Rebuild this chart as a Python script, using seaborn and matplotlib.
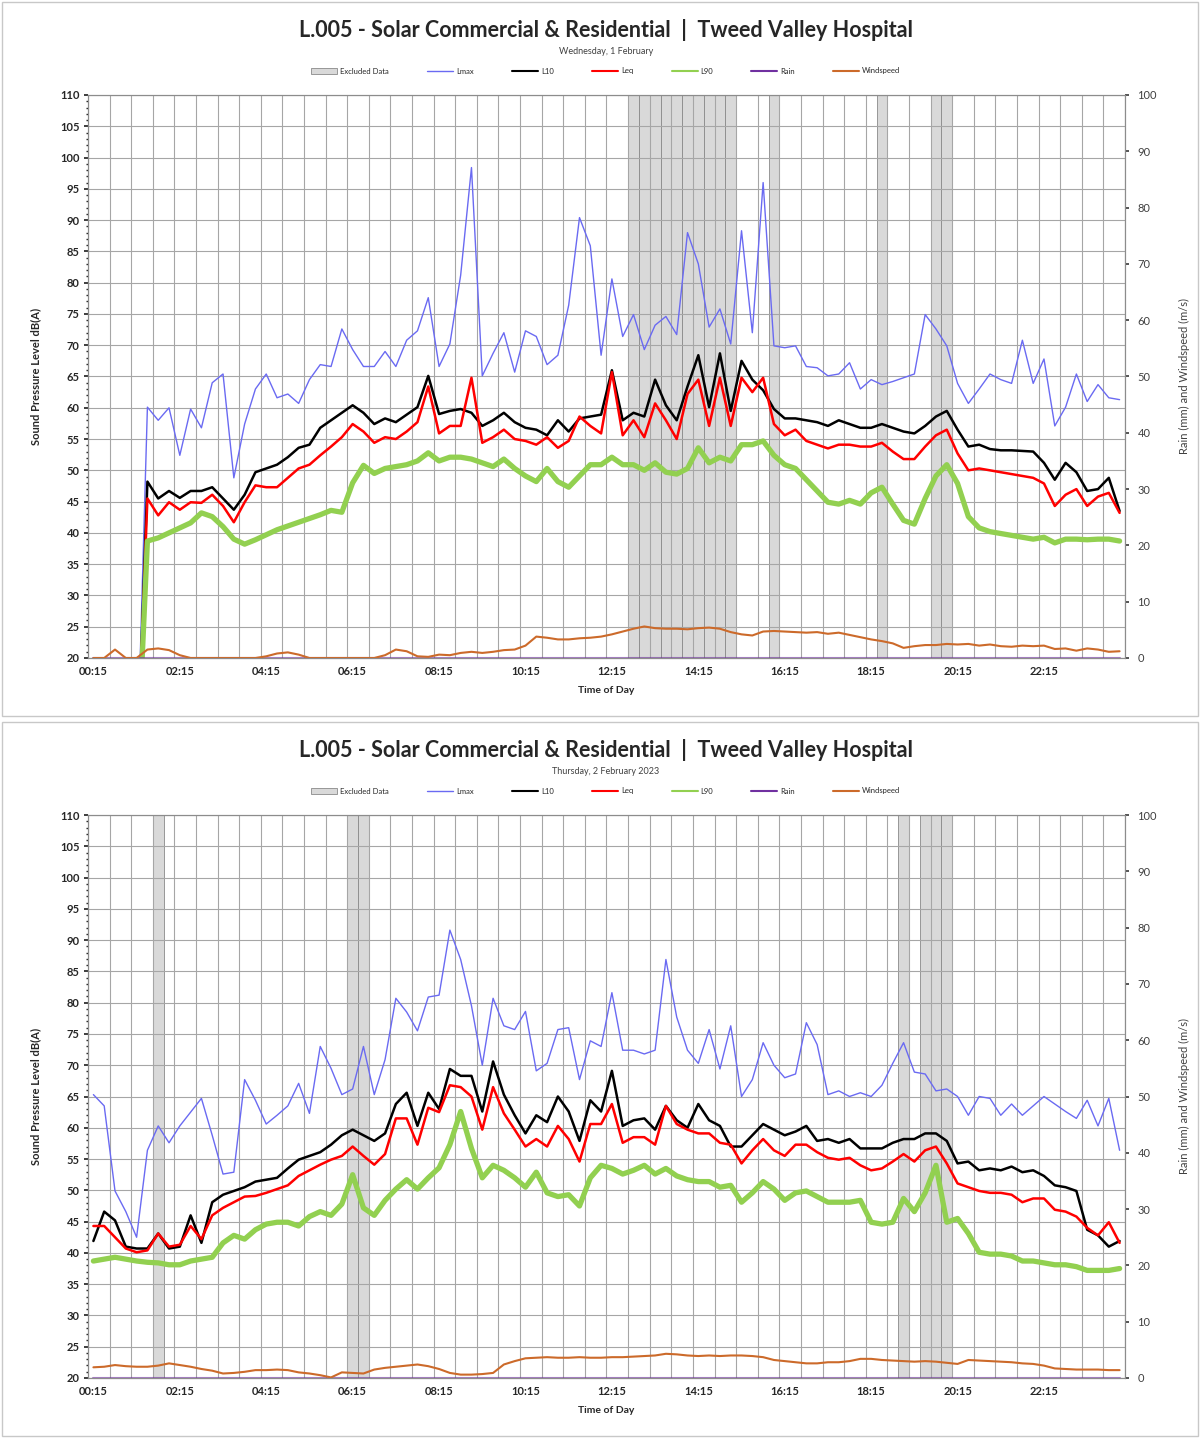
import numpy as np
import pandas as pd
import matplotlib
matplotlib.use("Agg")
import matplotlib.pyplot as plt
from matplotlib.patches import Patch, Rectangle
from matplotlib.lines import Line2D
from matplotlib.ticker import MultipleLocator
import seaborn as sns

sns.set_theme(style="white")
plt.rcParams["font.family"] = ["Lato", "DejaVu Sans"]

# 15 minute periods, 00:15 .. 24:00
times = pd.date_range("2023-02-01 00:15", periods=96, freq="15min").strftime("%H:%M").tolist()
tick_labels = ["00:15", "02:15", "04:15", "06:15", "08:15", "10:15",
               "12:15", "14:15", "16:15", "18:15", "20:15", "22:15"]

title = "L.005 - Solar Commercial & Residential  |  Tweed Valley Hospital"
subtitles = ["Wednesday, 1 February", "Thursday, 2 February 2023"]

# ---- Wednesday 1 February ----
lmax_1 = [0, 0, 0, 0, 0,
          60.1, 58, 60, 52.4, 59.8, 56.8, 64, 65.4, 48.8, 57.4, 63, 65.4, 61.6, 62.2, 60.7,
          64.5, 66.9, 66.6, 72.6, 69.3, 66.6, 66.6, 69, 66.6, 70.8, 72.3, 77.6, 66.6,
          70.2, 81.2, 98.4, 65.1, 68.7, 72, 65.7, 72.3, 71.4, 66.9, 68.4, 76.4, 90.4, 85.9,
          68.4, 80.6, 71.4, 74.9, 69.3, 73.2, 74.6, 71.7, 88, 83, 72.9, 75.8, 70.2, 88.3,
          72, 96, 69.9, 69.6,
          69.9, 66.6, 66.4, 65.1, 65.4, 67.2, 63, 64.5, 63.7, 64.2, 64.8, 65.4, 74.9, 72.6,
          69.9, 63.9, 60.7, 63, 65.4, 64.5, 63.9, 70.8, 63.9, 67.8, 57.1, 60.1, 65.4, 61,
          63.7, 61.6, 61.3]
l10_1 = [0, 0, 0, 0, 0,
         48.2, 45.5, 46.7, 45.6, 46.7, 46.7, 47.3, 45.5, 43.7, 46.1, 49.7, 50.3, 50.9, 52.1,
         53.6, 54.1, 56.8, 58, 59.2, 60.4, 59.2, 57.4, 58.3, 57.7, 58.9, 60.1, 65.1, 59,
         59.5, 59.8, 59.2, 57.1, 58, 59.2, 57.7, 56.8, 56.5, 55.6, 58, 56.2, 58.3, 58.6,
         58.9, 66, 58, 59.2, 58.6, 64.5, 60.4, 58, 63.4, 68.4, 60.1, 68.7, 59.5, 67.5,
         64.5, 62.8, 59.8, 58.3,
         58.3, 58, 57.7, 57.1, 58, 57.4, 56.8, 56.8, 57.4, 56.8, 56.2, 55.9, 57.1, 58.6,
         59.5, 56.5, 53.8, 54.1, 53.4, 53.2, 53.2, 53.1, 53, 51.2, 48.5, 51.2, 49.7, 46.7,
         47, 48.8, 43.5]
leq_1 = [0, 0, 0, 0, 0,
         45.5, 42.8, 44.9, 43.7, 44.9, 44.8, 46.1, 44.3, 41.7, 44.9, 47.6, 47.3, 47.3, 48.8,
         50.3, 50.9, 52.4, 53.8, 55.3, 57.4, 56.2, 54.4, 55.3, 55, 56.2, 57.7, 63.4, 55.9,
         57.1, 57.1, 64.8, 54.4, 55.3, 56.5, 55, 54.7, 54.1, 55.3, 53.6, 54.7, 58.6, 57.1,
         55.9, 65.7, 55.6, 58, 55.3, 60.7, 58, 55, 62.2, 64.5, 57.1, 64.8, 57.1, 64.8,
         62.5, 64.8, 57.4, 55.6,
         56.5, 54.7, 54.1, 53.5, 54.1, 54.1, 53.8, 53.8, 54.4, 53, 51.8, 51.8, 53.8, 55.6,
         56.5, 52.7, 50, 50.3, 50, 49.7, 49.4, 49.1, 48.8, 47.9, 44.3, 46.1, 47, 44.3,
         45.8, 46.4, 43.2]
l90_1 = [0, 0, 0, 0, 0,
         38.7, 39.2, 40, 40.8, 41.6, 43.2, 42.6, 41, 39, 38.2, 38.9, 39.7, 40.5, 41.1,
         41.7, 42.3, 42.9, 43.6, 43.3, 48, 50.8, 49.5, 50.3, 50.6, 50.9, 51.5, 52.8, 51.5,
         52.1, 52.1, 51.8, 51.2, 50.6, 51.8, 50.3, 49.1, 48.2, 50.3, 48.2, 47.3, 49.1, 50.9,
         50.9, 52.1, 50.9, 50.9, 50, 51.2, 49.7, 49.4, 50.3, 53.6, 51.2, 52.1, 51.5, 54.1,
         54.1, 54.7, 52.4, 50.9,
         50.3, 48.5, 46.7, 44.9, 44.6, 45.2, 44.6, 46.4, 47.3, 44.6, 42, 41.4, 45.5, 49.1,
         50.9, 47.9, 42.6, 40.8, 40.2, 39.9, 39.6, 39.3, 39, 39.3, 38.4, 39, 39, 38.9,
         39, 39, 38.7]
wind_1 = [0, 0, 1.5, 0, 0, 1.5, 1.7, 1.4, 0.5, 0, 0, 0, 0, 0, 0, 0, 0.3, 0.8, 1.0, 0.6,
          0, 0, 0, 0, 0, 0, 0, 0.5, 1.5, 1.2, 0.3, 0.2, 0.6, 0.5, 0.9, 1.1, 0.9, 1.1, 1.4,
          1.5, 2.2, 3.8, 3.6, 3.3, 3.3, 3.5, 3.6, 3.8, 4.2, 4.7, 5.2, 5.6, 5.3, 5.2, 5.2,
          5.1, 5.3, 5.4, 5.2, 4.6, 4.2, 4.0, 4.7, 4.8, 4.7, 4.6, 4.5, 4.6, 4.3, 4.5, 4.1,
          3.7, 3.3, 3.0, 2.6, 1.8, 2.1, 2.3, 2.3, 2.5, 2.4, 2.5, 2.2, 2.4, 2.1, 2.0, 2.2,
          2.1, 2.2, 1.6, 1.7, 1.3, 1.7, 1.5, 1.1, 1.2]
rain_1 = [0.0] * 96
excluded_1 = ["12:45", "13:00", "13:15", "13:30", "13:45", "14:00", "14:15", "14:30",
              "14:45", "15:00", "16:00", "18:30", "19:45", "20:00"]

# ---- Thursday 2 February 2023 ----
lmax_2 = [65.3, 63.5, 49.9, 46.6, 42.5, 56.4, 60.3, 57.6, 60.3, 62.5, 64.7, 58.8, 52.6,
          52.9, 67.7, 64.4, 60.6, 62, 63.5, 67.1, 62.3, 73, 69.5, 65.3, 66.2, 73, 65.3,
          70.9, 80.7, 78.5, 75.5, 80.9, 81.2,
          91.6, 86.9, 79.5, 70, 80.7, 76.3, 75.7, 78.6, 69.1, 70.3, 75.7, 76, 67.7, 73.9,
          73, 81.6, 72.4, 72.4, 71.8, 72.4, 86.9, 77.7, 72.4, 70.3, 75.7, 69.4, 76.3, 65,
          67.7, 73.6, 70, 68,
          68.6, 76.8, 73.3, 65.3, 65.9, 65, 65.6, 65, 66.8, 70.3, 73.6, 68.9, 68.6, 65.9,
          66.2, 65, 62, 65, 64.7, 62, 63.8, 62, 63.5, 65, 63.8, 62.6, 61.5, 64.4, 60.3,
          64.7, 56.4]
l10_2 = [41.9, 46.6, 45.2, 41, 40.7, 40.7, 43.1, 40.7, 41, 46, 41.6, 48.1, 49.3, 49.9,
         50.5, 51.4, 51.7, 52, 53.5, 54.9, 55.5, 56.1, 57.3, 58.8, 59.7, 58.8, 57.9, 59.1,
         63.8, 65.6, 60.3, 65.6, 63,
         69.4, 68.3, 68.3, 62.6, 70.6, 65.3, 62, 59.1, 62, 60.9, 65, 62.6, 57.9, 64.4,
         62.6, 69.1, 60.3, 61.2, 61.5, 59.7, 63.5, 61.2, 60, 63.8, 61.2, 60.3, 57, 57,
         58.8, 60.6, 59.7, 58.8,
         59.4, 60.3, 57.9, 58.2, 57.6, 58.2, 56.7, 56.7, 56.7, 57.6, 58.2, 58.2, 59.1, 59.1,
         57.9, 54.3, 54.6, 53.2, 53.5, 53.2, 53.8, 52.9, 53.2, 52.3, 50.8, 50.5, 49.9, 43.7,
         42.8, 41, 41.9]
leq_2 = [44.3, 44.3, 42.5, 40.7, 40.1, 40.4, 43.1, 41, 41.3, 44.3, 42.2, 46, 47.2, 48.1,
         49, 49.1, 49.6, 50.2, 50.8, 52.3, 53.2, 54.1, 54.9, 55.5, 57, 55.5, 54.1, 55.8,
         61.5, 61.5, 57.3, 63.2, 62.5,
         66.8, 66.5, 65, 59.7, 66.5, 62.3, 59.7, 57, 58.2, 57, 60.3, 58.2, 54.6, 60.6,
         60.6, 63.8, 57.6, 58.5, 58.5, 57.3, 63.5, 60.6, 59.7, 59.1, 59.1, 57.6, 57.3, 54.3,
         56.4, 58.2, 56.4, 55.5,
         57.3, 57.3, 56.1, 55.2, 54.9, 55.2, 54, 53.2, 53.5, 54.6, 55.8, 54.6, 56.4, 57,
         54.3, 51.1, 50.5, 49.9, 49.6, 49.6, 49.3, 48.1, 48.7, 48.7, 46.9, 46.6, 45.8, 44,
         42.8, 44.9, 41.6]
l90_2 = [38.7, 39, 39.3, 39, 38.7, 38.5, 38.4, 38.1, 38.1, 38.7, 39, 39.3, 41.6, 42.8,
         42.2, 43.7, 44.6, 44.9, 44.9, 44.3, 45.8, 46.6, 46, 47.8, 52.5, 47.2, 46, 48.4,
         50.2, 51.7, 50.2, 52, 53.6,
         57.3, 62.6, 56.7, 52, 54, 53.2, 52, 50.5, 52.9, 49.6, 49, 49.3, 47.5, 52,
         54, 53.5, 52.6, 53.2, 54, 52.6, 53.5, 52.3, 51.7, 51.4, 51.4, 50.5, 50.8, 48.1,
         49.6, 51.4, 50.2, 48.4,
         49.6, 49.9, 49, 48.1, 48.1, 48.1, 48.4, 44.9, 44.6, 44.9, 48.7, 46.6, 49.6, 54,
         44.9, 45.5, 43.1, 40.1, 39.8, 39.8, 39.5, 38.7, 38.7, 38.4, 38.1, 38.1, 37.8, 37.2,
         37.2, 37.2, 37.5]
wind_2 = [1.9, 2.0, 2.3, 2.1, 2.0, 2.0, 2.2, 2.6, 2.3, 2.0, 1.6, 1.3, 0.8, 0.9, 1.1, 1.4,
          1.4, 1.5, 1.4, 1.0, 0.8, 0.5, 0.1, 1.0, 0.9, 0.8, 1.5, 1.8, 2.0, 2.2, 2.4, 2.1,
          1.6, 0.9, 0.6, 0.6, 0.7, 0.9, 2.4, 3.0, 3.5, 3.6, 3.7, 3.6, 3.6, 3.7, 3.6, 3.6,
          3.7, 3.7, 3.8, 3.9, 4.0, 4.3, 4.2, 4.0, 3.9, 4.0, 3.9, 4.0, 4.0, 3.9, 3.7, 3.2,
          3.0, 2.8, 2.6, 2.6, 2.8, 2.8, 3.0, 3.4, 3.4, 3.2, 3.1, 3.0, 2.9, 3.0, 2.9, 2.7,
          2.5, 3.2, 3.1, 3.0, 2.9, 2.8, 2.6, 2.5, 2.2, 1.7, 1.6, 1.5, 1.5, 1.5, 1.4, 1.4]
rain_2 = [0.0] * 96
excluded_2 = ["01:45", "06:15", "06:30", "19:00", "19:30", "19:45", "20:00"]

C_LMAX = "#6a6af2"
C_L10 = "#000000"
C_LEQ = "#ff0000"
C_L90 = "#92d050"
C_RAIN = "#7030a0"
C_WIND = "#cc6a2a"
C_EXCL = "#d9d9d9"
GRID = "#a6a6a6"

W, H = 1200, 1438
fig = plt.figure(figsize=(W / 100, H / 100), dpi=100)
fig.patch.set_facecolor("white")


def fy(px):
    return 1 - px / H


def draw_panel(top_px, subtitle, lmax, l10, leq, l90, rain, wind, excluded):
    # chart border
    fig.patches.append(Rectangle((2 / W, fy(top_px + 716)), 1 - 4 / W, 714 / H,
                                 transform=fig.transFigure, fill=False,
                                 edgecolor="#c8c8c8", linewidth=1.0))
    fig.text(0.505, fy(top_px + 30), title, ha="center", va="center",
             fontsize=15.5, fontweight="bold", color="#262626")
    fig.text(0.505, fy(top_px + 52), subtitle, ha="center", va="center",
             fontsize=6.5, color="#404040")

    ax = fig.add_axes([88 / W, fy(top_px + 658), 1037 / W, 563 / H])
    df = pd.DataFrame({"pos": np.arange(len(times)), "time": times,
                       "Lmax": lmax, "L10": l10, "Leq": leq, "L90": l90,
                       "Rain": rain, "Windspeed": wind})

    # excluded periods as full-height columns
    excl_pos = df.loc[df["time"].isin(excluded), "pos"]
    ax.bar(excl_pos, 90, bottom=20, width=1.0, color=C_EXCL,
           edgecolor="#8a8a8a", linewidth=0.6, zorder=1)

    sns.lineplot(data=df, x="pos", y="Lmax", ax=ax, color=C_LMAX, linewidth=1.0, legend=False)
    sns.lineplot(data=df, x="pos", y="L10", ax=ax, color=C_L10, linewidth=1.8, legend=False)
    sns.lineplot(data=df, x="pos", y="Leq", ax=ax, color=C_LEQ, linewidth=1.8, legend=False)
    sns.lineplot(data=df, x="pos", y="L90", ax=ax, color=C_L90, linewidth=3.8, legend=False)

    ax.set_xlim(-0.5, 95.5)
    ax.set_ylim(20, 110)
    ax.set_axisbelow("line")
    ax.yaxis.set_major_locator(MultipleLocator(5))
    ax.yaxis.set_minor_locator(MultipleLocator(1))
    ax.set_xticks([times.index(t) for t in tick_labels])
    ax.set_xticklabels(tick_labels)
    ax.set_xticks(np.arange(-0.5, 96, 2), minor=True)
    ax.grid(which="major", axis="y", color=GRID, linewidth=0.8)
    ax.grid(which="minor", axis="x", color=GRID, linewidth=0.8)
    ax.tick_params(axis="x", which="major", length=0, labelsize=8, pad=6)
    ax.tick_params(axis="x", which="minor", length=0)
    ax.tick_params(axis="y", which="major", length=3, labelsize=8, pad=3, left=True)
    ax.tick_params(axis="y", which="minor", length=1.5, left=True)
    for lab in ax.get_xticklabels() + ax.get_yticklabels():
        lab.set_fontweight("bold")
        lab.set_color("#262626")
    ax.set_xlabel("Time of Day", fontsize=7.5, fontweight="bold", labelpad=6)
    ax.set_ylabel("Sound Pressure Level dB(A)", fontsize=8, fontweight="bold", labelpad=14)
    for s in ax.spines.values():
        s.set_color("#8c8c8c")
        s.set_linewidth(0.8)

    ax2 = ax.twinx()
    sns.lineplot(data=df, x="pos", y="Rain", ax=ax2, color=C_RAIN, linewidth=1.5,
                 legend=False, clip_on=False, alpha=0.6)
    sns.lineplot(data=df, x="pos", y="Windspeed", ax=ax2, color=C_WIND, linewidth=1.5, legend=False)
    ax2.set_ylim(0, 100)
    ax2.set_xlim(-0.5, 95.5)
    ax2.yaxis.set_major_locator(MultipleLocator(10))
    ax2.tick_params(axis="y", length=3, labelsize=8, pad=6, right=True, colors="#404040")
    ax2.set_ylabel("Rain (mm) and Windspeed (m/s)", fontsize=8, labelpad=16, color="#404040")
    ax2.grid(False)
    for s in ax2.spines.values():
        s.set_color("#8c8c8c")
        s.set_linewidth(0.8)

    handles = [Patch(facecolor=C_EXCL, edgecolor="#8a8a8a", linewidth=0.6, label="Excluded Data"),
               Line2D([], [], color=C_LMAX, linewidth=1.0, label="Lmax"),
               Line2D([], [], color=C_L10, linewidth=1.5, label="L10"),
               Line2D([], [], color=C_LEQ, linewidth=1.5, label="Leq"),
               Line2D([], [], color=C_L90, linewidth=1.5, label="L90"),
               Line2D([], [], color=C_RAIN, linewidth=1.5, label="Rain"),
               Line2D([], [], color=C_WIND, linewidth=1.5, label="Windspeed")]
    fig.legend(handles=handles, loc="center", bbox_to_anchor=(0.505, fy(top_px + 71)),
               ncol=7, frameon=False, fontsize=5.5, handlelength=3.4, handleheight=0.8,
               columnspacing=5.0, handletextpad=0.4)


draw_panel(0, subtitles[0], lmax_1, l10_1, leq_1, l90_1, rain_1, wind_1, excluded_1)
draw_panel(720, subtitles[1], lmax_2, l10_2, leq_2, l90_2, rain_2, wind_2, excluded_2)

fig.savefig("out.png", dpi=100, facecolor="white")
